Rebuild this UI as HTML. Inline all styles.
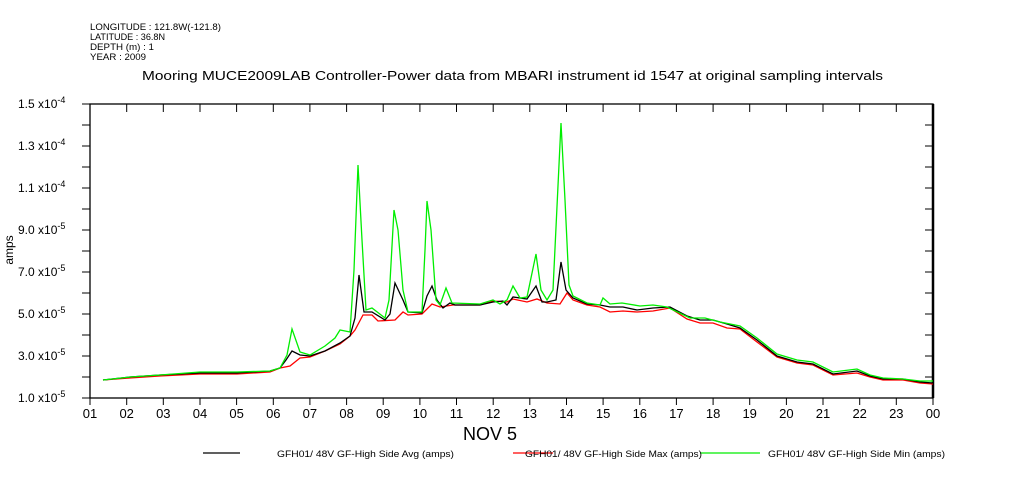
<!DOCTYPE html>
<html><head><meta charset="utf-8"><style>
body{margin:0;background:#fff;}
svg{display:block;font-family:"Liberation Sans",sans-serif;}
</style></head><body>
<svg width="1009" height="504" viewBox="0 0 1009 504">
<rect width="1009" height="504" fill="#fff"/>
<g font-size="9" fill="#000">
<text x="90" y="30" textLength="131" lengthAdjust="spacingAndGlyphs">LONGITUDE : 121.8W(-121.8)</text>
<text x="90" y="40" textLength="75" lengthAdjust="spacingAndGlyphs">LATITUDE : 36.8N</text>
<text x="90" y="50" textLength="64" lengthAdjust="spacingAndGlyphs">DEPTH (m) : 1</text>
<text x="90" y="60" textLength="56" lengthAdjust="spacingAndGlyphs">YEAR : 2009</text>
</g>
<text x="142" y="80" font-size="13" textLength="741" lengthAdjust="spacingAndGlyphs">Mooring MUCE2009LAB Controller-Power data from MBARI instrument id 1547 at original sampling intervals</text>
<g stroke="#000" stroke-width="1.3" fill="none">
<rect x="90" y="104" width="843" height="294"/>
<line x1="933" y1="104" x2="933" y2="398" stroke-width="2.5"/>
</g>
<g stroke="#000" stroke-width="1">
<path d="M90 104v8M126.7 104v8M163.3 104v8M200 104v8M236.6 104v8M273.3 104v8M309.9 104v8M346.6 104v8M383.2 104v8M419.9 104v8M456.5 104v8M493.2 104v8M529.8 104v8M566.5 104v8M603.1 104v8M639.8 104v8M676.4 104v8M713.1 104v8M749.7 104v8M786.4 104v8M823 104v8M859.7 104v8M896.3 104v8
M90 398v7M126.7 398v7M163.3 398v7M200 398v7M236.6 398v7M273.3 398v7M309.9 398v7M346.6 398v7M383.2 398v7M419.9 398v7M456.5 398v7M493.2 398v7M529.8 398v7M566.5 398v7M603.1 398v7M639.8 398v7M676.4 398v7M713.1 398v7M749.7 398v7M786.4 398v7M823 398v7M859.7 398v7M896.3 398v7M933 398v7
M82 398h8M82 377h8M82 356h8M82 335h8M82 314h8M82 293h8M82 272h8M82 251h8M82 230h8M82 209h8M82 188h8M82 167h8M82 146h8M82 125h8M82 104h8
M925 377h8M925 356h8M925 335h8M925 314h8M925 293h8M925 272h8M925 251h8M925 230h8M925 209h8M925 188h8M925 167h8M925 146h8M925 125h8"/>
</g>
<g font-size="12" fill="#000">
<text x="18" y="402">1.0 x10<tspan dy="-5" font-size="9">-5</tspan></text>
<text x="18" y="360">3.0 x10<tspan dy="-5" font-size="9">-5</tspan></text>
<text x="18" y="318">5.0 x10<tspan dy="-5" font-size="9">-5</tspan></text>
<text x="18" y="276">7.0 x10<tspan dy="-5" font-size="9">-5</tspan></text>
<text x="18" y="234">9.0 x10<tspan dy="-5" font-size="9">-5</tspan></text>
<text x="18" y="192">1.1 x10<tspan dy="-5" font-size="9">-4</tspan></text>
<text x="18" y="150">1.3 x10<tspan dy="-5" font-size="9">-4</tspan></text>
<text x="18" y="108">1.5 x10<tspan dy="-5" font-size="9">-4</tspan></text>
</g>
<g font-size="13" fill="#000" text-anchor="middle">
<text x="90" y="418">01</text><text x="126.7" y="418">02</text><text x="163.3" y="418">03</text><text x="200" y="418">04</text><text x="236.6" y="418">05</text><text x="273.3" y="418">06</text><text x="309.9" y="418">07</text><text x="346.6" y="418">08</text><text x="383.2" y="418">09</text><text x="419.9" y="418">10</text><text x="456.5" y="418">11</text><text x="493.2" y="418">12</text><text x="529.8" y="418">13</text><text x="566.5" y="418">14</text><text x="603.1" y="418">15</text><text x="639.8" y="418">16</text><text x="676.4" y="418">17</text><text x="713.1" y="418">18</text><text x="749.7" y="418">19</text><text x="786.4" y="418">20</text><text x="823" y="418">21</text><text x="859.7" y="418">22</text><text x="896.3" y="418">23</text><text x="933" y="418">00</text>
</g>
<text x="490" y="440" font-size="18" text-anchor="middle">NOV  5</text>
<text transform="translate(13,250) rotate(-90)" font-size="12" text-anchor="middle">amps</text>
<polyline fill="none" stroke="#f00" stroke-width="1.3" points="103,380 130,378 160,376 200,374 237,374 270,372 280,368 290,366 300,358 310,357 325,351 340,344 350,336 355,330 363,315 372,315 378,321 395,320 403,312 408,315 422,314 432,304 440,307 453,305 480,305 493,301 507,302 513,299 527,302 537,299 547,303 560,304 567,293 573,300 587,305 600,307 610,312 623,311 637,312 653,311 670,308 687,319 700,323 713,323 727,328 740,329 757,342 777,357 797,363 813,365 833,375 857,373 870,377 883,380 903,380 920,383 933,384"/>
<polyline fill="none" stroke="#000" stroke-width="1.3" points="103,380 130,377 160,375 200,373 237,373 270,371 280,368 286,360 292,351 300,355 310,356 325,351 340,343 350,336 355,318 359,275 364,312 372,312 385,320 390,314 395,283 403,300 408,312 422,313 427,296 432,286 437,300 443,308 450,303 455,305 480,305 493,302 503,301 507,305 513,297 527,299 536,286 542,302 547,302 556,300 561,262 566,290 573,298 587,304 600,305 610,307 623,307 637,310 653,308 670,307 687,316 700,320 713,320 727,324 740,328 757,340 777,356 797,362 813,364 833,374 857,371 870,376 883,379 903,379 920,382 933,383"/>
<polyline fill="none" stroke="#0e0" stroke-width="1.3" points="103,380 130,377 160,375 200,372 237,372 270,371 280,368 287,355 292,329 300,352 310,355 325,346 335,338 340,330 350,332 354,270 358,165 362,240 366,310 372,308 385,318 389,300 394,210 398,230 403,290 408,312 422,312 425,250 427,201 431,230 436,300 440,305 446,288 452,303 480,304 493,300 500,304 507,300 513,286 520,298 527,297 536,254 541,290 547,300 553,290 561,123 565,200 569,285 573,296 587,303 600,305 603,298 610,304 622,303 640,306 653,305 667,307 690,318 705,318 720,322 740,326 757,338 777,354 797,360 813,362 833,372 857,369 870,375 883,378 903,379 920,381 933,381"/>
<g stroke-width="1.3">
<line x1="203" y1="453" x2="240" y2="453" stroke="#000"/>
<line x1="513" y1="453" x2="553" y2="453" stroke="#f00"/>
<line x1="700" y1="453" x2="760" y2="453" stroke="#0e0"/>
</g>
<g font-size="9" fill="#000">
<text x="277" y="457" textLength="177" lengthAdjust="spacingAndGlyphs">GFH01/ 48V GF-High Side Avg (amps)</text>
<text x="525" y="457" textLength="177" lengthAdjust="spacingAndGlyphs">GFH01/ 48V GF-High Side Max (amps)</text>
<text x="768" y="457" textLength="177" lengthAdjust="spacingAndGlyphs">GFH01/ 48V GF-High Side Min (amps)</text>
</g>
</svg>
</body></html>
